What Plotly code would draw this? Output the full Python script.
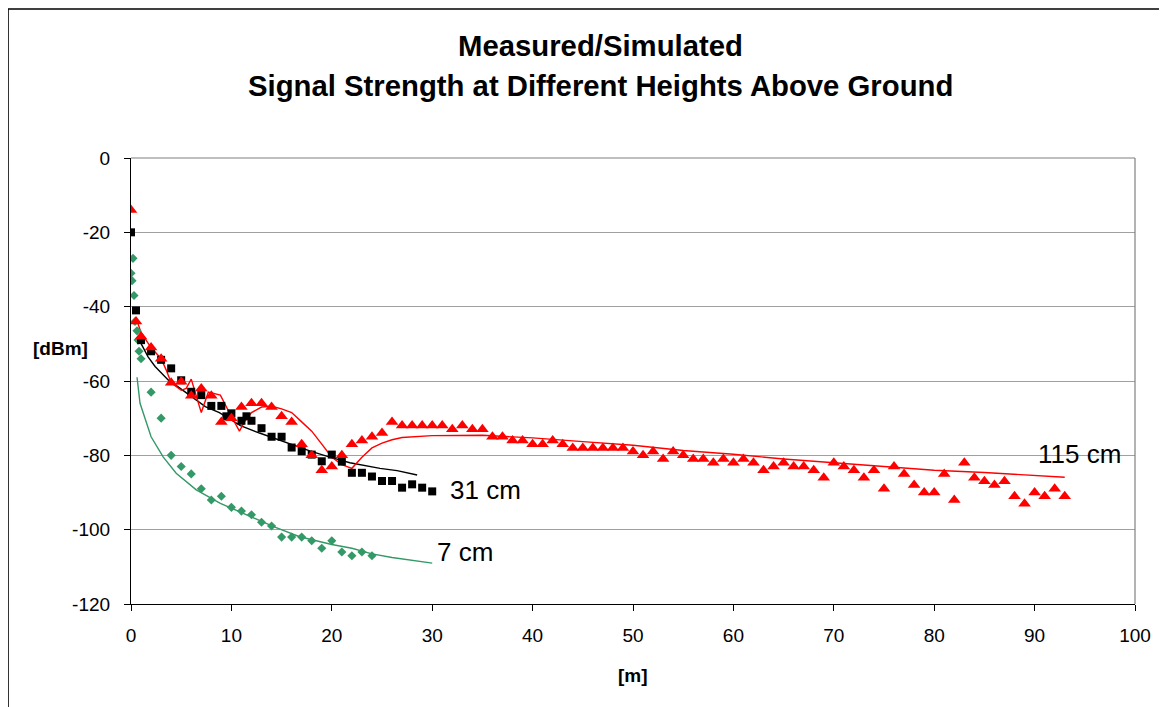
import plotly.graph_objects as go

# ---------------- data ----------------
# 115 cm measured (red triangles)
red_meas_x = [0, 0.5, 1, 2, 3, 4, 5, 6, 7, 8, 9, 10, 11, 12, 13, 14, 15, 16, 17, 18, 19, 20,
              21, 22, 23, 24, 25, 26, 27, 28, 29, 30, 31, 32, 33, 34, 35, 36, 37, 38, 39, 40,
              41, 42, 43, 44, 45, 46, 47, 48, 49, 50, 51, 52, 53, 54, 55, 56, 57, 58, 59, 60,
              61, 62, 63, 64, 65, 66, 67, 68, 69, 70, 71, 72, 73, 74, 75, 76, 77, 78, 79, 80,
              81, 82, 83, 84, 85, 86, 87, 88, 89, 90, 91, 92, 93]
red_meas_y = [-14, -44, -48, -51, -54, -60.5, -60.2, -64, -62, -64, -71, -70, -67, -66, -66, -67,
              -69.5, -71, -77, -80, -84, -83, -80, -77, -76, -75, -74, -71, -72, -72, -72, -72,
              -72, -73, -72, -73, -73, -75, -75, -76, -76, -77, -77, -76, -77, -78, -78, -78,
              -78, -78, -78, -79, -80, -79, -81, -79, -80, -81, -81, -82, -81, -82, -81, -82,
              -84, -83, -82, -83, -83, -84, -86, -82, -83, -84, -86, -84, -89, -83, -85, -88,
              -90, -90, -85, -92, -82, -86, -87, -88, -87, -91, -93, -90, -91, -89, -91]

# 115 cm simulated (red line)
red_sim_x = [0.5, 1, 2, 3, 3.5, 4, 5, 5.5, 6, 7, 7.7, 8.9, 9.7, 10.8, 11.3, 12, 13, 14, 15, 16,
             17, 18, 19, 20, 21, 22, 23, 24, 25, 26, 27, 28, 29, 30, 35, 40, 45, 50, 55, 60,
             65, 70, 75, 80, 85, 90, 93]
red_sim_y = [-43, -47, -51, -54, -57, -60.5, -62.5, -62, -59.5, -68.5, -63, -63.8, -68, -73.5,
             -71, -68.5, -67, -66.8, -67.5, -68.5, -71, -73.5, -77, -80.5, -82.5, -83.5, -80.5,
             -78, -76.7, -75.8, -75.2, -75, -74.8, -74.7, -74.6, -75.3, -76.3, -77.3, -78.7,
             -79.7, -81, -82, -83, -84, -84.6, -85.3, -85.9]

# 31 cm measured (black squares)
blk_meas_x = [0, 0.5, 1, 2, 3, 4, 5, 6, 7, 8, 9, 9.5, 10, 11, 11.5, 12, 13, 14, 15, 16, 17, 18,
              19, 20, 21, 22, 23, 24, 25, 26, 27, 28, 29, 30]
blk_meas_y = [-20, -41, -49, -52, -54.3, -56.6, -59.8, -62.9, -63.8, -66.7, -66.7, -69.5, -68.7,
              -70.7, -69.5, -70.7, -72.7, -75, -75, -77.9, -78.9, -79.8, -81.6, -79.8, -81.7,
              -84.7, -84.7, -85.7, -86.9, -86.9, -88.7, -87.8, -88.7, -89.7]

# 31 cm simulated (black line)
blk_sim_x = [0.9, 1.7, 2.4, 3.7, 4.9, 6, 7.4, 8.8, 10.9, 12.8, 15.8, 17.8, 19.8, 21.8, 24.8,
             26.5, 28.5]
blk_sim_y = [-49.4, -53.5, -56.1, -59.7, -62, -64.2, -66.9, -68.5, -72, -74, -77, -78.8, -80.5,
             -82, -83.5, -84.1, -85.3]

# 7 cm measured (green diamonds)
grn_meas_x = [0, 0.1, 0.2, 0.3, 0.4, 0.6, 0.7, 0.8, 1, 2, 3, 4, 5, 6, 7, 8, 9, 10, 11, 12, 13,
              14, 15, 16, 17, 18, 19, 20, 21, 22, 23, 24]
grn_meas_y = [-31, -33, -27, -37, -44, -46.5, -49, -52, -54, -63, -70, -80, -83, -85, -89, -92,
              -91, -94, -95, -96, -98, -99, -102, -102, -102, -103, -105, -103, -106, -107,
              -106, -107]

# 7 cm simulated (green line)
grn_sim_x = [0.6, 0.9, 2, 3.2, 4.5, 6.5, 8.9, 11.5, 14.2, 16.8, 18.8, 20, 22, 24, 26, 28, 30]
grn_sim_y = [-59, -66, -75, -80.4, -84.8, -89.3, -92.9, -96, -99.2, -101.9, -103.2, -104, -105,
             -106.5, -107.5, -108.3, -109]

x_ticks = [0, 10, 20, 30, 40, 50, 60, 70, 80, 90, 100]
y_ticks = [0, -20, -40, -60, -80, -100, -120]

labels = ["115 cm", "31 cm", "7 cm"]
label_x = [94.5, 35.3, 33.3]
label_y = [-79.6, -89.3, -106]

title_lines = ["Measured/Simulated", "Signal Strength at Different Heights Above Ground"]

RED = "#FF0000"
BLACK = "#000000"
GREEN = "#339966"
FONT = "Liberation Sans, Arial, sans-serif"

# page body has an 8px margin; compensate so plot area lands at (131,158)-(1135,604)
L, T, W, H = 123, 150, 1004, 446

fig = go.Figure()

# simulated lines
fig.add_trace(go.Scatter(x=grn_sim_x, y=grn_sim_y, mode="lines",
                         line=dict(color=GREEN, width=1.4), hoverinfo="skip"))
fig.add_trace(go.Scatter(x=blk_sim_x, y=blk_sim_y, mode="lines",
                         line=dict(color=BLACK, width=1.4), hoverinfo="skip"))
fig.add_trace(go.Scatter(x=red_sim_x, y=red_sim_y, mode="lines",
                         line=dict(color=RED, width=1.4), hoverinfo="skip"))
# measured markers
fig.add_trace(go.Scatter(x=grn_meas_x, y=grn_meas_y, mode="markers",
                         marker=dict(symbol="diamond", size=7, color=GREEN, line=dict(width=0))))
fig.add_trace(go.Scatter(x=blk_meas_x, y=blk_meas_y, mode="markers",
                         marker=dict(symbol="square", size=8, color=BLACK, line=dict(width=0))))
fig.add_trace(go.Scatter(x=red_meas_x, y=red_meas_y, mode="markers",
                         marker=dict(symbol="triangle-up", size=11, color=RED, line=dict(width=0))))

# curve labels
for t, lx, ly in zip(labels, label_x, label_y):
    fig.add_annotation(x=lx, y=ly, text=t, showarrow=False, xref="x", yref="y",
                       font=dict(family=FONT, size=26, color="#000000"))

# title lines
fig.add_annotation(x=(600 - 131) / W, y=(604 - 46) / H, xref="paper", yref="paper",
                   text="<b>" + title_lines[0] + "</b>",
                   showarrow=False, yanchor="middle", xanchor="center",
                   font=dict(family=FONT, size=29.3, color="#000000"))
fig.add_annotation(x=(600 - 131) / W, y=(604 - 86) / H, xref="paper", yref="paper",
                   text="<b>" + title_lines[1] + "</b>",
                   showarrow=False, yanchor="middle", xanchor="center",
                   font=dict(family=FONT, size=29.3, color="#000000"))

# axis titles
fig.add_annotation(x=(60 - 131) / W, y=(604 - 348) / H, xref="paper", yref="paper",
                   text="<b>[dBm]</b>", showarrow=False, xanchor="center", yanchor="middle",
                   font=dict(family=FONT, size=19, color="#000000"))
fig.add_annotation(x=(633 - 131) / W, y=(604 - 675) / H, xref="paper", yref="paper",
                   text="<b>[m]</b>", showarrow=False, xanchor="center", yanchor="middle",
                   font=dict(family=FONT, size=19, color="#000000"))

# plot-area border (top/right, gray)
fig.add_shape(type="line", xref="paper", yref="paper", x0=0, x1=1, y0=1, y1=1,
              line=dict(color="#808080", width=1.2))
fig.add_shape(type="line", xref="paper", yref="paper", x0=1, x1=1, y0=0, y1=1,
              line=dict(color="#808080", width=1.2))
# outer chart frame
fig.add_shape(type="rect", xref="paper", yref="paper",
              x0=(8 - 131) / W, x1=(1190 - 131) / W,
              y0=(604 - 730) / H, y1=(604 - 9) / H,
              line=dict(color="#000000", width=1.6), fillcolor="rgba(0,0,0,0)")

fig.update_xaxes(range=[0, 100], tickvals=x_ticks, ticktext=[str(v) for v in x_ticks],
                 showgrid=False, zeroline=False, showline=True, linecolor="#000000", linewidth=1.2,
                 ticks="outside", ticklen=6, tickcolor="#000000", tickwidth=1,
                 ticklabelstandoff=8,
                 tickfont=dict(family=FONT, size=19, color="#000000"))
fig.update_yaxes(range=[-120, 0], tickvals=y_ticks, ticktext=[str(v) for v in y_ticks],
                 showgrid=True, gridcolor="#A0A0A0", gridwidth=1.2, zeroline=False,
                 showline=True, linecolor="#000000", linewidth=1.2,
                 ticks="outside", ticklen=6, tickcolor="#000000", tickwidth=1,
                 ticklabelstandoff=10,
                 tickfont=dict(family=FONT, size=19, color="#000000"))

fig.update_layout(width=1167, height=707, autosize=False,
                  margin=dict(l=L, r=1167 - L - W, t=T, b=707 - T - H),
                  paper_bgcolor="#FFFFFF", plot_bgcolor="#FFFFFF",
                  showlegend=False, font=dict(family=FONT, color="#000000"))

fig.write_html("out.html", config={"displayModeBar": False})
